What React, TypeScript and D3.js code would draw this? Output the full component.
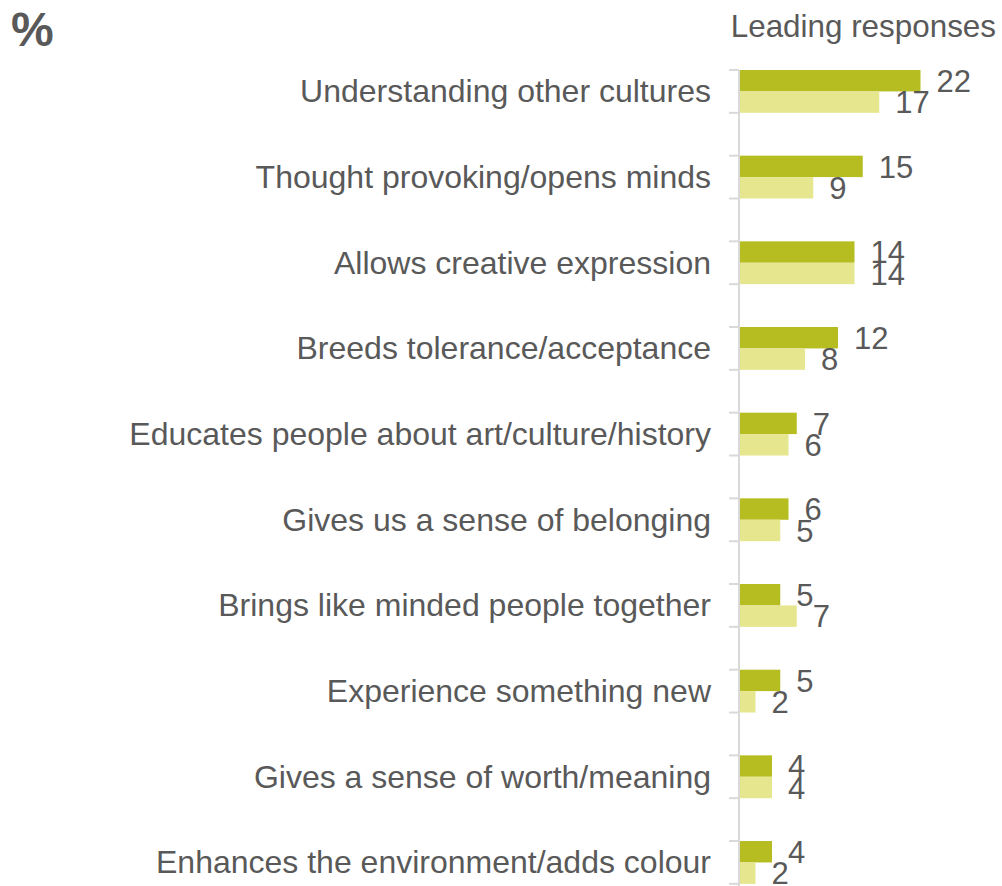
import React from "react";
import * as d3 from "d3";

const categories = [
  "Understanding other cultures",
  "Thought provoking/opens minds",
  "Allows creative expression",
  "Breeds tolerance/acceptance",
  "Educates people about art/culture/history",
  "Gives us a sense of belonging",
  "Brings like minded people together",
  "Experience something new",
  "Gives a sense of worth/meaning",
  "Enhances the environment/adds colour",
];
const seriesA = [22, 15, 14, 12, 7, 6, 5, 5, 4, 4];
const seriesB = [17, 9, 14, 8, 6, 5, 7, 2, 4, 2];

const W = 1002;
const H = 886;
const TEXT = "#595959";
const DARK = "#b5bd21";
const LIGHT = "#e6e68f";
const FONT = "'Liberation Sans', Arial, sans-serif";

export default function App() {
  const y = d3
    .scaleBand<string>()
    .domain(categories)
    .range([70, 70 + 85.67 * categories.length])
    .padding(0);
  const x = d3.scaleLinear().domain([0, 22]).range([739, 920.5]);
  const bw = y.bandwidth();
  const barH = bw / 4;

  const ticks: number[] = [];
  categories.forEach((c) => {
    ticks.push(y(c)!);
    ticks.push(y(c)! + bw / 2);
  });

  return (
    <svg
      width={W}
      height={H}
      style={{ position: "absolute", left: 0, top: 0, display: "block" }}
      fontFamily={FONT}
    >
      <rect width={W} height={H} fill="#fff" />
      <text x={11} y={46} fontSize={48} fontWeight="bold" fill={TEXT}>
        %
      </text>
      <text x={996} y={37} fontSize={31.4} fill={TEXT} textAnchor="end">
        Leading responses
      </text>

      {categories.map((c, i) => {
        const y0 = y(c)!;
        return (
          <g key={c}>
            <rect x={x(0)} y={y0} width={x(seriesA[i]) - x(0)} height={barH} fill={DARK} />
            <rect x={x(0)} y={y0 + barH} width={x(seriesB[i]) - x(0)} height={barH} fill={LIGHT} />
            <text
              x={711}
              y={y0 + barH}
              dy="0.34em"
              textAnchor="end"
              fontSize={32}
              fill={TEXT}
            >
              {c}
            </text>
            <text x={x(seriesA[i]) + 16} y={y0 + barH / 2} dy="0.36em" fontSize={31} fill={TEXT}>
              {seriesA[i]}
            </text>
            <text x={x(seriesB[i]) + 16} y={y0 + barH * 1.5} dy="0.36em" fontSize={31} fill={TEXT}>
              {seriesB[i]}
            </text>
          </g>
        );
      })}

      <line x1={739} x2={739} y1={70} y2={H} stroke="#d9d9d9" strokeWidth={2} />
      {ticks.map((t, i) => (
        <line key={i} x1={729} x2={739} y1={t} y2={t} stroke="#d9d9d9" strokeWidth={2} />
      ))}
    </svg>
  );
}
